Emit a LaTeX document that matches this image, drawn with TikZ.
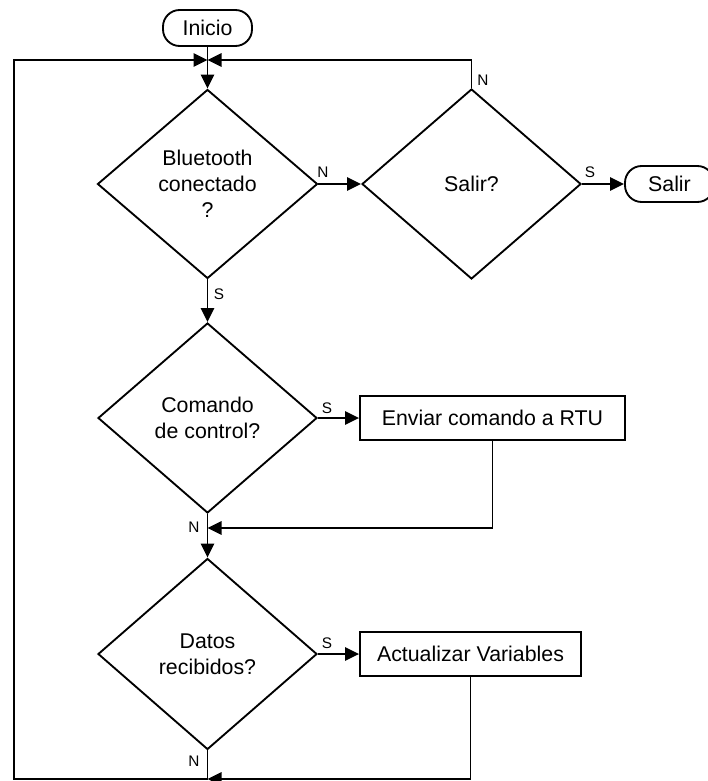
\documentclass[tikz,border=0pt]{standalone}
\usepackage{fontspec}
\setmainfont{Liberation Sans}
\usetikzlibrary{positioning,arrows.meta,shapes.geometric}

\begin{document}
\begin{tikzpicture}[x=0.75pt,y=-0.75pt,line width=1.4pt,
  every node/.style={font=\fontsize{16}{19.3}\selectfont},
  decision/.style={draw,diamond,inner sep=0pt,align=center},
  process/.style={draw,rectangle,minimum height=33pt,align=center},
  terminal/.style={draw,rectangle,rounded corners=12.5pt,minimum width=66.75pt,minimum height=27pt},
  lbl/.style={font=\fontsize{11.5}{13}\selectfont,inner sep=0pt},
  flow/.style={-{Triangle[length=10.5pt,width=10pt]}}]
  \useasboundingbox (0,0) rectangle (707,781);
  % start and main decision
  \node[terminal] (inicio) at (207.5,28) {Inicio};
  \node[decision,minimum width=165pt,minimum height=141.75pt] (bt) at (207.5,184) {Bluetooth\\conectado\\?};
  \node[decision,minimum width=164.25pt,minimum height=142.5pt] (salirq) at (471.5,184) {Salir?};
  \node[terminal] (salir) at (669.5,184) {Salir};
  % control command branch
  \node[decision,minimum width=164.25pt,minimum height=142.5pt] (cmd) at (207.5,418) {Comando\\de control?};
  \node[process,minimum width=198.75pt] (enviar) at (492.5,418) {Enviar comando a RTU};
  % received data branch
  \node[decision,minimum width=164.25pt,minimum height=143.25pt] (datos) at (207.5,654) {Datos\\recibidos?};
  \node[process,minimum width=165.75pt] (actualizar) at (470.5,654) {Actualizar Variables};
  % junction points
  \coordinate (jtop) at (207.5,60);
  \coordinate (jmid) at (207.5,528);
  \coordinate (jbot) at (207.5,779);
  \coordinate (lb) at (14,779);
  % connectors
  \draw[flow] (inicio) -- (bt);
  \draw[flow] (bt.east) -- (salirq.west);
  \draw[flow] (salirq.east) -- (salir.west);
  \draw[flow] (salirq.north) |- (jtop);
  \draw[flow] (bt.south) -- (cmd.north);
  \draw[flow] (cmd.east) -- (enviar.west);
  \draw[flow] (enviar.south) |- (jmid);
  \draw[flow] (cmd.south) -- (datos.north);
  \draw[flow] (datos.east) -- (actualizar.west);
  \draw[flow] (actualizar.south) |- (jbot);
  \draw[flow] (datos.south) |- (lb) |- (jtop);
  % branch labels
  \node[lbl] (n1) at (323,172) {N};
  \node[lbl] (n2) at (483,80) {N};
  \node[lbl] (s1) at (590,172) {S};
  \node[lbl] (s2) at (219,294) {S};
  \node[lbl] (s3) at (327,408) {S};
  \node[lbl] (n3) at (194,527) {N};
  \node[lbl] (s4) at (327,643) {S};
  \node[lbl] (n4) at (194,761) {N};
\end{tikzpicture}
\end{document}
